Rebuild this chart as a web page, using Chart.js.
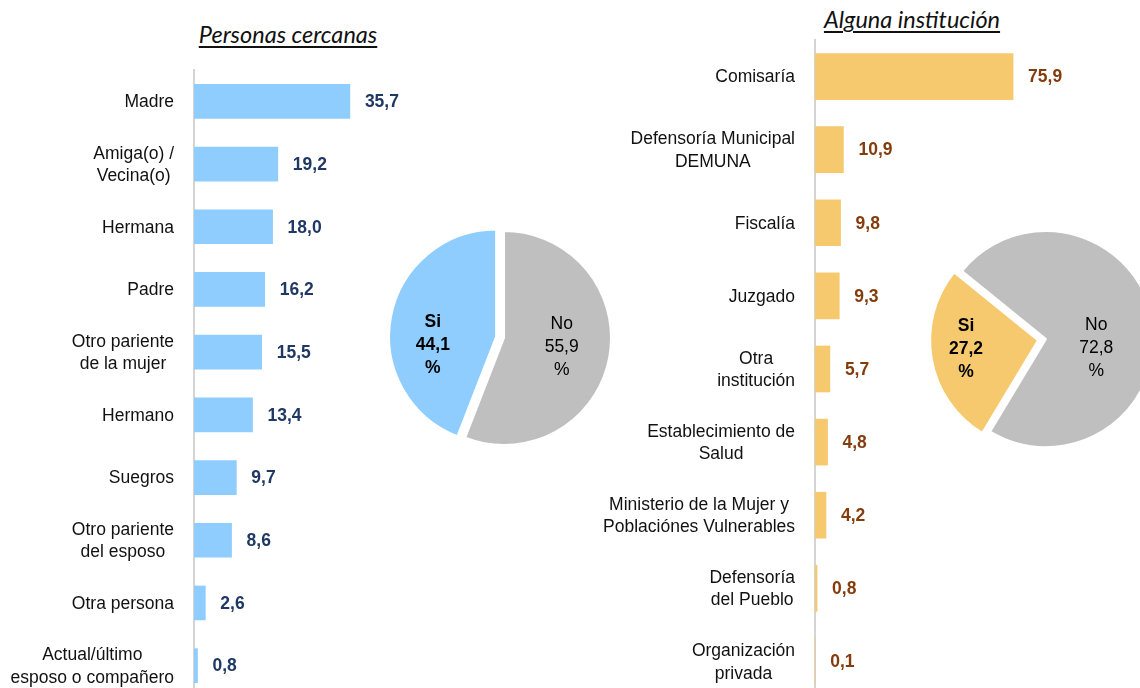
<!DOCTYPE html>
<html><head><meta charset="utf-8">
<script src="https://cdn.jsdelivr.net/npm/chart.js@4.4.1/dist/chart.umd.min.js"></script>
<style>
html,body{margin:0;padding:0;width:1140px;height:688px;overflow:hidden;background:#fff;position:relative;}
canvas{position:absolute;}
.t{position:absolute;font-family:Lato,"Open Sans",sans-serif;font-style:italic;font-size:23.5px;color:#111;text-decoration:underline;text-decoration-thickness:1.5px;text-underline-offset:3px;white-space:nowrap;transform:translateX(-50%);line-height:1;}
</style></head><body>
<div class="t" style="left:288px;top:23px">Personas cercanas</div>
<div class="t" style="left:912px;top:8px">Alguna institución</div>
<canvas id="b1" width="460" height="700" style="left:0;top:0"></canvas>
<canvas id="b2" width="540" height="700" style="left:600px;top:0"></canvas>
<canvas id="p1" width="260" height="260" style="left:374px;top:208px"></canvas>
<canvas id="p2" width="260" height="260" style="left:916px;top:209px"></canvas>
<script>
const personasLabels = ["Madre", ["Amiga(o) /","Vecina(o)"], "Hermana", "Padre", ["Otro pariente","de la mujer"], "Hermano", "Suegros", ["Otro pariente","del esposo"], "Otra persona", ["Actual/último","esposo o compañero"]];
const personasValues = [35.7, 19.2, 18.0, 16.2, 15.5, 13.4, 9.7, 8.6, 2.6, 0.8];
const institLabels = ["Comisaría", ["Defensoría Municipal","DEMUNA"], "Fiscalía", "Juzgado", ["Otra","institución"], ["Establecimiento de","Salud"], ["Ministerio de la Mujer y","Poblaciónes Vulnerables"], ["Defensoría","del Pueblo"], ["Organización","privada"]];
const institValues = [75.9, 10.9, 9.8, 9.3, 5.7, 4.8, 4.2, 0.8, 0.1];
const pieLabels = ["No", "Si"];
const piePersonasValues = [55.9, 44.1];
const pieInstitValues = [72.8, 27.2];

const BLUE = '#8FCDFE', GOLD = '#F7C96F', GRAY = '#BFBFBF';
const FONT = '"Liberation Sans", Arial, sans-serif';
const fmt = v => v.toFixed(1).replace('.', ',');

const catLabelsPlugin = {
  id: 'catLabels',
  afterDraw(chart) {
    const ctx = chart.ctx, sc = chart.scales.y;
    const right = chart.chartArea.left - 20;
    ctx.save();
    ctx.font = '17.5px ' + FONT;
    ctx.fillStyle = '#111';
    ctx.textAlign = 'center';
    ctx.textBaseline = 'middle';
    chart.data.labels.forEach((lab, i) => {
      const lines = Array.isArray(lab) ? lab : [lab];
      const y = sc.getPixelForValue(i);
      const lh = 22.5;
      const w = Math.max(...lines.map(l => ctx.measureText(l).width));
      const cx = right - w / 2;
      lines.forEach((l, j) => ctx.fillText(l, cx, y + 1 + (j - (lines.length - 1) / 2) * lh));
    });
    ctx.restore();
  }
};
const valLabelsPlugin = {
  id: 'valLabels',
  afterDatasetsDraw(chart, args, opts) {
    const ctx = chart.ctx;
    const meta = chart.getDatasetMeta(0);
    ctx.save();
    ctx.font = 'bold 17.5px ' + FONT;
    ctx.fillStyle = opts.color;
    ctx.textAlign = 'left';
    ctx.textBaseline = 'middle';
    meta.data.forEach((bar, i) => {
      ctx.fillText(fmt(chart.data.datasets[0].data[i]), bar.x + 15, bar.y + 1);
    });
    ctx.restore();
  }
};

function barChart(id, labels, values, color, labelColor, yWidth, xMax, padTop, padBottom, padRight, thickness) {
  new Chart(document.getElementById(id), {
    type: 'bar',
    data: { labels, datasets: [{ data: values, backgroundColor: color, barThickness: thickness, borderWidth: 0 }] },
    options: {
      indexAxis: 'y', responsive: false, animation: false,
      layout: { padding: { top: padTop, bottom: padBottom, right: padRight, left: 0 } },
      plugins: { legend: { display: false }, tooltip: { enabled: false }, valLabels: { color: labelColor } },
      scales: {
        x: { display: false, min: 0, max: xMax },
        y: {
          grid: { display: false, drawTicks: false },
          border: { display: true, color: '#D4D4D4', width: 2 },
          ticks: { display: false },
          afterFit(s) { s.width = yWidth; }
        }
      }
    },
    plugins: [catLabelsPlugin, valLabelsPlugin]
  });
}
barChart('b1', personasLabels, personasValues, BLUE, '#1F3864', 194, 60, 70, 3, 4, 34);
barChart('b2', institLabels, institValues, GOLD, '#843C0C', 215, 100, 40, 2, 64, 46);

// explode selected slices by a true pixel distance
const explodePlugin = {
  id: 'explode',
  afterDatasetUpdate(chart, args, opts) {
    const meta = chart.getDatasetMeta(0);
    meta.data.forEach((arc, i) => {
      const d = opts.dist[i] || 0;
      arc._explode = d;
      if (!d || arc._patched) return;
      const orig = arc.draw;
      arc.draw = function (ctx) {
        const mid = (this.startAngle + this.endAngle) / 2;
        ctx.save();
        ctx.translate(Math.cos(mid) * this._explode, Math.sin(mid) * this._explode);
        orig.call(this, ctx);
        ctx.restore();
      };
      arc._patched = true;
    });
  }
};
const pieLabelPlugin = {
  id: 'pieLabels',
  afterDatasetsDraw(chart) {
    const ctx = chart.ctx;
    const meta = chart.getDatasetMeta(0);
    const data = chart.data.datasets[0].data;
    const total = data.reduce((a, b) => a + b, 0);
    ctx.save();
    ctx.textAlign = 'center';
    ctx.textBaseline = 'middle';
    ctx.fillStyle = '#000';
    meta.data.forEach((arc, i) => {
      const p = arc.getProps(['x','y','startAngle','endAngle','outerRadius']);
      const mid = (p.startAngle + p.endAngle) / 2;
      const off = arc._explode || 0;
      const cx = p.x + Math.cos(mid) * off, cy = p.y + Math.sin(mid) * off;
      const frac = data[i] / total;
      const R = p.outerRadius * (0.8 - 0.45 * frac);
      const x = cx + Math.cos(mid) * R, y = cy + 9;
      const lab = chart.data.labels[i];
      const lines = [lab, fmt(data[i]), '%'];
      ctx.font = (lab === 'Si' ? 'bold ' : '') + '17.5px ' + FONT;
      lines.forEach((l, j) => ctx.fillText(l, x, y + (j - 1) * 23));
    });
    ctx.restore();
  }
};
function pieChart(id, values, colors, rotation, radius) {
  new Chart(document.getElementById(id), {
    type: 'pie',
    data: { labels: pieLabels, datasets: [{ data: values, backgroundColor: colors, borderColor: '#fff', borderWidth: 2 }] },
    options: {
      responsive: false, animation: false, rotation, radius,
      layout: { padding: 0 },
      plugins: { legend: { display: false }, tooltip: { enabled: false }, explode: { dist: [0, 8] } }
    },
    plugins: [explodePlugin, pieLabelPlugin]
  });
}
pieChart('p1', piePersonasValues, [GRAY, BLUE], 0, 107);
pieChart('p2', pieInstitValues, [GRAY, GOLD], 309, 108);
</script>
</body></html>
